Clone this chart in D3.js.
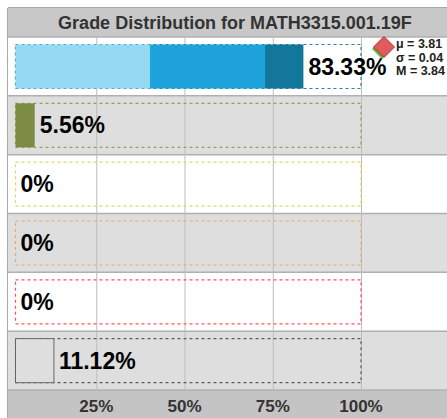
<!DOCTYPE html>
<html>
<head>
<meta charset="utf-8">
<script src="https://d3js.org/d3.v7.min.js"></script>
<style>
  body { margin: 0; background: #fff; }
  svg { display: block; font-family: "Liberation Sans", Arial, sans-serif; }
</style>
</head>
<body>
<div id="chart"></div>
<script>
// data
var title = "Grade Distribution for MATH3315.001.19F";
var categories = ["A", "B", "C", "D", "F", "W"];
var labels = ["83.33%", "5.56%", "0%", "0%", "0%", "11.12%"];
// stacked pieces per row (percent of class)
var segments = [
  [38.89, 33.33, 11.11],
  [5.56],
  [0],
  [0],
  [0],
  [11.12]
];
var segColors = [
  ["#95d8f2", "#1fa3dc", "#13779c"],
  ["#7b8c42"],
  ["#e6dc70"],
  ["#e8b060"],
  ["#ff5a64"],
  ["#dedede"]
];
var outlineColors = ["#2e7fa6", "#94a456", "#e2d660", "#e4ac58", "#ff4f60", "#5e5e5e"];
var ticks = [25, 50, 75, 100];
var statLines = ["\u03bc = 3.81", "\u03c3 = 0.04", "M = 3.84"];

var W = 447, H = 418;
var svg = d3.select("#chart").append("svg")
  .attr("width", W)
  .attr("height", H);

var chartLeft = 8, chartTop = 8, titleH = 29, plotBottom = 390;

// scales
var row = d3.scaleBand().domain(categories).range([chartTop + titleH, plotBottom]).padding(0);
var xGrid = d3.scaleLinear().domain([0, 100]).range([chartLeft, 361]);
var xBar = d3.scaleLinear().domain([0, 100]).range([15.5, 361]);

// title band
svg.append("rect")
  .attr("x", chartLeft).attr("y", chartTop)
  .attr("width", W - chartLeft).attr("height", titleH)
  .attr("fill", "#c8c8c8");
svg.append("text")
  .attr("x", 235).attr("y", chartTop + 21)
  .attr("text-anchor", "middle")
  .attr("font-size", "18px").attr("font-weight", "bold")
  .attr("fill", "#333")
  .text(title);

// row backgrounds
svg.selectAll(".rowbg")
  .data(categories)
  .enter().append("rect")
  .attr("class", "rowbg")
  .attr("x", chartLeft)
  .attr("y", function(d) { return row(d); })
  .attr("width", W - chartLeft)
  .attr("height", row.bandwidth())
  .attr("fill", function(d, i) { return i % 2 == 0 ? "#ffffff" : "#dedede"; });

// row separators
svg.selectAll(".sep")
  .data(categories)
  .enter().append("line")
  .attr("x1", chartLeft).attr("x2", W)
  .attr("y1", function(d) { return row(d); })
  .attr("y2", function(d) { return row(d); })
  .attr("stroke", "#b0b0b0")
  .attr("stroke-width", 1.5);

// axis band
svg.append("rect")
  .attr("x", chartLeft).attr("y", plotBottom)
  .attr("width", W - chartLeft).attr("height", H - plotBottom)
  .attr("fill", "#c4c4c4");
svg.append("line")
  .attr("x1", chartLeft).attr("x2", W)
  .attr("y1", plotBottom).attr("y2", plotBottom)
  .attr("stroke", "#b0b0b0").attr("stroke-width", 1.5);

// grid lines
svg.selectAll(".grid")
  .data(ticks)
  .enter().append("line")
  .attr("x1", function(d) { return xGrid(d) + 0.5; })
  .attr("x2", function(d) { return xGrid(d) + 0.5; })
  .attr("y1", chartTop + titleH).attr("y2", plotBottom)
  .attr("stroke", "#bdbdbd").attr("stroke-width", 1);

// borders
svg.append("line")
  .attr("x1", chartLeft - 0.5).attr("x2", chartLeft - 0.5)
  .attr("y1", chartTop).attr("y2", H)
  .attr("stroke", "#aaaaaa");
svg.append("line")
  .attr("x1", chartLeft).attr("x2", W)
  .attr("y1", chartTop - 0.5).attr("y2", chartTop - 0.5)
  .attr("stroke", "#aaaaaa");

// tick labels
svg.selectAll(".tick")
  .data(ticks)
  .enter().append("text")
  .attr("x", function(d) { return xGrid(d); })
  .attr("y", 412)
  .attr("text-anchor", "middle")
  .attr("font-size", "17px").attr("font-weight", "bold")
  .attr("fill", "#333")
  .text(function(d) { return d + "%"; });

var barTop = 7.5, barH = 44;

// dashed outlines (100% box)
svg.selectAll(".outline")
  .data(categories)
  .enter().append("rect")
  .attr("x", xBar(0))
  .attr("y", function(d) { return row(d) + barTop; })
  .attr("width", xBar(100) - xBar(0))
  .attr("height", barH)
  .attr("fill", "none")
  .attr("stroke", function(d, i) { return outlineColors[i]; })
  .attr("stroke-width", 1.2)
  .attr("stroke-dasharray", "3,3");

// bars
var totals = [];
categories.forEach(function(cat, i) {
  var acc = 0;
  segments[i].forEach(function(v, j) {
    if (v > 0) {
      svg.append("rect")
        .attr("x", xBar(acc))
        .attr("y", row(cat) + barTop)
        .attr("width", xBar(acc + v) - xBar(acc))
        .attr("height", barH)
        .attr("fill", segColors[i][j])
        .attr("stroke", cat == "W" ? "#666" : "none")
        .attr("stroke-width", 1);
    }
    acc += v;
  });
  totals.push(acc);
});

// percent labels
svg.selectAll(".pct")
  .data(categories)
  .enter().append("text")
  .attr("x", function(d, i) { return xBar(totals[i]) + 5; })
  .attr("y", function(d) { return row(d) + barTop + barH / 2 + 8; })
  .attr("font-size", "23px").attr("font-weight", "bold")
  .attr("fill", "#000")
  .text(function(d, i) { return labels[i]; });

// mean / median markers
function diamond(cx, cy, r) {
  return "M" + cx + "," + (cy - r) + "L" + (cx + r) + "," + cy + "L" + cx + "," + (cy + r) + "L" + (cx - r) + "," + cy + "Z";
}
svg.append("path")
  .attr("d", diamond(382, 49, 10))
  .attr("fill", "#5cb84a");
svg.append("path")
  .attr("d", diamond(384, 47, 10.5))
  .attr("fill", "#e05c5c")
  .attr("stroke", "#a83838")
  .attr("stroke-width", 1);

// stats
svg.selectAll(".stat")
  .data(statLines)
  .enter().append("text")
  .attr("x", 396)
  .attr("y", function(d, i) { return 48 + i * 13.5; })
  .attr("font-size", "12.5px").attr("font-weight", "bold")
  .attr("fill", "#222")
  .text(function(d) { return d; });
</script>
</body>
</html>
